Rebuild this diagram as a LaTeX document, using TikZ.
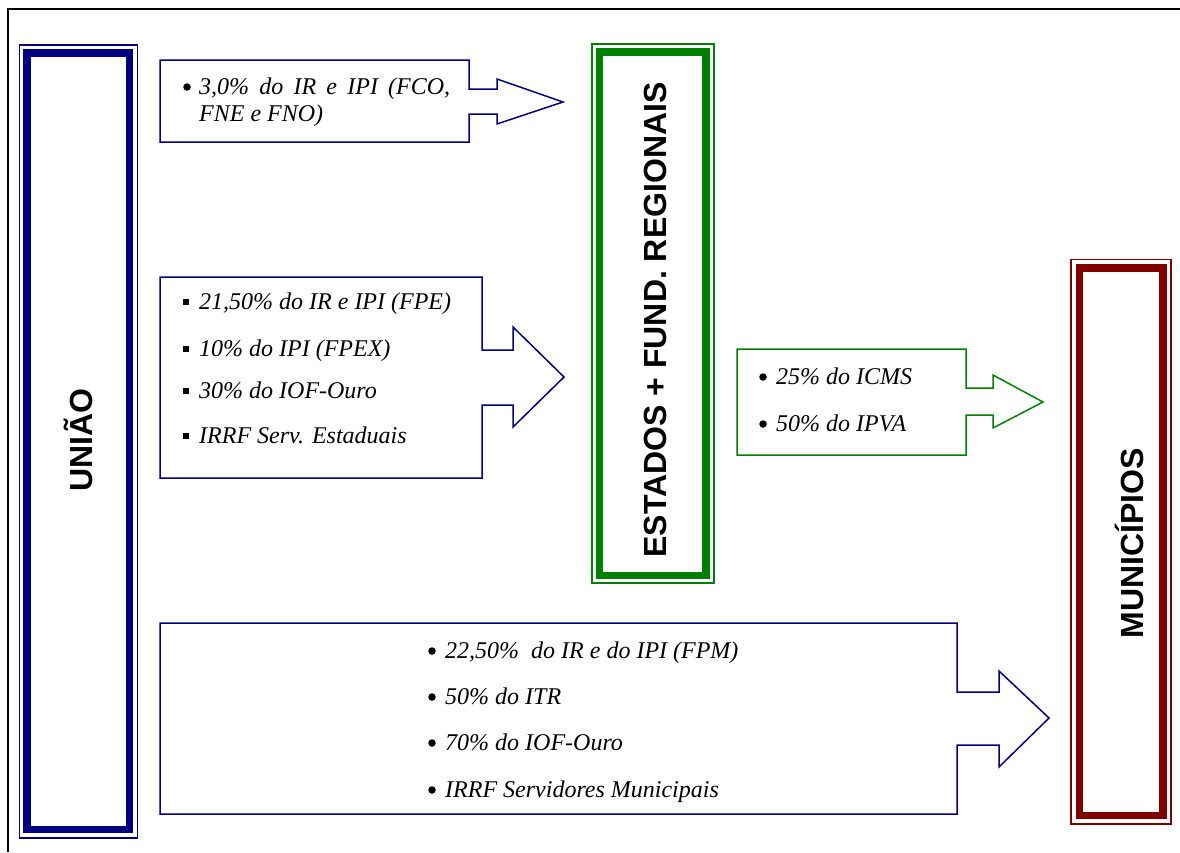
\documentclass[tikz,border=0pt]{standalone}
\usepackage{fontspec}
\setmainfont{Liberation Serif}
\newfontfamily\headfont{Liberation Sans}
\definecolor{navy}{RGB}{0,0,128}
\definecolor{dkgreen}{RGB}{0,128,0}
\definecolor{maroon}{RGB}{128,0,0}
\tikzset{
  callout/.style={line width=1.5pt, line join=miter},
  item/.style={anchor=base west, inner sep=0pt, font=\fontsize{24}{28}\selectfont\itshape},
  bul/.style={anchor=base, inner sep=0pt, font=\fontsize{24}{28}\selectfont},
  dot/.style={circle, fill=black, inner sep=0pt, minimum size=7.5pt},
  head/.style={anchor=base, rotate=90, inner sep=0pt, font=\headfont\bfseries\fontsize{32}{36}\selectfont},
  thinframe/.style={line width=1.7pt},
  thickframe/.style={line width=7.5pt}
}
\begin{document}
\begin{tikzpicture}[x=1pt,y=-1pt]
\useasboundingbox (0,0) rectangle (1180,852);
% page frame
\draw[line width=2pt] (8.3,852) -- (8.3,9.3) -- (1180,9.3);

% UNIAO box
\draw[thinframe,navy] (19.5,45) rectangle (137.5,838);
\draw[thickframe,navy] (27,53) rectangle (129.5,829.5);
\node[head] (uniao) at (92,440) {UNIÃO};

% ESTADOS box
\draw[thinframe,dkgreen] (592,44) rectangle (714,583);
\draw[thickframe,dkgreen] (599.5,52) rectangle (706,575.5);
\node[head] (estados) at (666,320) {ESTADOS + FUND. REGIONAIS};

% MUNICIPIOS box
\draw[thinframe,maroon] (1071,259.5) rectangle (1171,824);
\draw[thickframe,maroon] (1079.5,268) rectangle (1163,815.5);
\node[head] (municipios) at (1143,543) {MUNICÍPIOS};

% callout 1 (Uniao -> Estados)
\draw[callout,navy] (160,60) -- (469,60) -- (469,89) -- (497,89) -- (497,79) -- (563,102)
  -- (497,124) -- (497,114) -- (469,114) -- (469,142) -- (160,142) -- cycle;
\node[dot] (b1) at (187,87) {};
\node[item] (t1a) at (199,94) {\makebox[251pt][s]{3,0\% do IR e IPI (FCO,}};
\node[item] (t1b) at (199,121) {FNE e FNO)};

% callout 2 (Uniao -> Estados)
\draw[callout,navy] (160,277) -- (482,277) -- (482,350) -- (513,350) -- (513,327) -- (564,377)
  -- (513,427) -- (513,405) -- (482,405) -- (482,478) -- (160,478) -- cycle;
\node[bul] (s1) at (186,309) {\rule[4pt]{6.5pt}{6.5pt}};
\node[item] (t2a) at (199,309) {21,50\% do IR e IPI (FPE)};
\node[bul] (s2) at (186,356) {\rule[4pt]{6.5pt}{6.5pt}};
\node[item] (t2b) at (199,356) {10\% do IPI (FPEX)};
\node[bul] (s3) at (186,398) {\rule[4pt]{6.5pt}{6.5pt}};
\node[item] (t2c) at (199,398) {30\% do IOF-Ouro};
\node[bul] (s4) at (186,443) {\rule[4pt]{6.5pt}{6.5pt}};
\node[item] (t2d) at (199,443) {IRRF Serv. Estaduais};

% callout 3 (Estados -> Municipios)
\draw[callout,dkgreen] (737,349) -- (966,349) -- (966,388) -- (993,388) -- (993,375) -- (1043,402)
  -- (993,428) -- (993,415) -- (966,415) -- (966,455) -- (737,455) -- cycle;
\node[dot] (b3a) at (763,377) {};
\node[item] (t3a) at (776,384) {25\% do ICMS};
\node[dot] (b3b) at (763,424) {};
\node[item] (t3b) at (776,431) {50\% do IPVA};

% callout 4 (Uniao -> Municipios)
\draw[callout,navy] (160,623) -- (957,623) -- (957,692) -- (999,692) -- (999,671) -- (1049,718)
  -- (999,767) -- (999,745) -- (957,745) -- (957,814) -- (160,814) -- cycle;
\node[dot] (b4a) at (432,651) {};
\node[item] (t4a) at (445,658) {22,50\%\ \ do IR e do IPI (FPM)};
\node[dot] (b4b) at (432,697) {};
\node[item] (t4b) at (445,704) {50\% do ITR};
\node[dot] (b4c) at (432,743) {};
\node[item] (t4c) at (445,750) {70\% do IOF-Ouro};
\node[dot] (b4d) at (432,790) {};
\node[item] (t4d) at (445,797) {IRRF Servidores Municipais};
\end{tikzpicture}
\end{document}
